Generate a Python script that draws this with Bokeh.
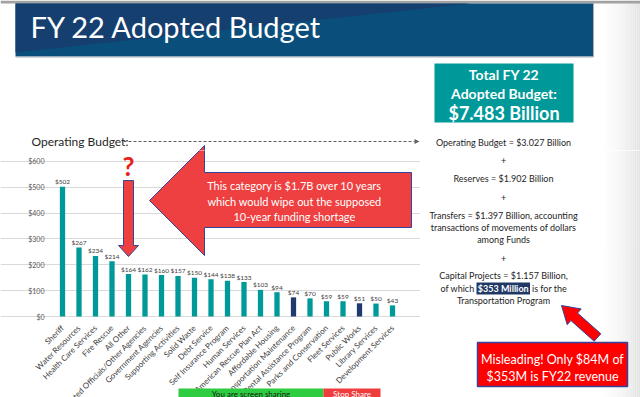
import math
import numpy as np
from bokeh.plotting import figure
from bokeh.layouts import column, row
from bokeh.models import Range1d, NumeralTickFormatter
from bokeh.core.properties import value
from bokeh.embed import file_html
from bokeh.resources import INLINE

# ---------------- data ----------------
categories = ["Sheriff", "Water Resources", "Health Care Services", "Fire Rescue", "All Other",
              "Elected Officials/Other Agencies", "Government Agencies", "Supporting Activities",
              "Solid Waste", "Debt Service", "Self Insurance Program", "Human Services",
              "American Rescue Plan Act", "Affordable Housing", "Transportation Maintenance",
              "Rental Assistance Program", "Parks and Conservation", "Fleet Services",
              "Public Works", "Library Services", "Development Services"]
amounts = [502, 267, 234, 214, 164, 162, 160, 157, 150, 144, 138, 133, 103, 94, 74, 70,
           59, 59, 51, 50, 43]
highlighted = ["Transportation Maintenance", "Public Works"]
y_ticks = [0, 100, 200, 300, 400, 500, 600]

slide_title = "FY 22 Adopted Budget"
section_label = "Operating Budget:"
total_lines = ["Total FY 22", "Adopted Budget:", "$7.483 Billion"]
callout_lines = ["This category is $1.7B over 10 years",
                 "which would wipe out the supposed",
                 "10-year funding shortage"]
breakdown_lines = ["Operating Budget = $3.027 Billion", "+", "Reserves = $1.902 Billion", "+",
                   "Transfers = $1.397 Billion, accounting",
                   "transactions of movements of dollars", "among Funds", "+",
                   "Capital Projects = $1.157 Billion,"]
highlight_parts = ["of which", "$353 Million", "is for the"]
last_line = "Transportation Program"
warning_lines = ["Misleading! Only $84M of", "$353M is FY22 revenue"]
share_texts = ["You are screen sharing", "Stop Share"]

# ---------------- styles ----------------
FONT = value("Lato")
TEAL = "#009999"
NAVY = "#1F3A6E"
RED = "#EE4040"
EDGE = "#34449A"
TXT = "#1E1E1E"


def canvas(x0, x1, y0, y1):
    p = figure(width=x1 - x0, height=y1 - y0, x_range=Range1d(x0, x1), y_range=Range1d(y1, y0),
               x_axis_type=None, y_axis_type=None, output_backend="svg",
               toolbar_location=None, min_border=0)
    p.outline_line_color = None
    p.background_fill_color = "white"
    p.border_fill_color = "white"
    return p


def right_shade(p, y0, y1):
    lefts = np.arange(596, 640, 2.0)
    t = (lefts - 596) / 44.0
    g = np.round(255 - 30 * t ** 1.6).astype(int)
    cols = ["#%02x%02x%02x" % (v, v, v) for v in g]
    p.quad(left=lefts, right=lefts + 2, top=y0, bottom=y1, fill_color=cols, line_color=None)


callout_x = [149, 204, 204, 411, 411, 204, 204]
callout_y = [200, 145, 172, 172, 227, 227, 255]

# ---------------- top strip ----------------
top = canvas(0, 640, 0, 150)
right_shade(top, 0, 150)
top.quad(left=0, right=640, top=0, bottom=3, fill_color="#A2A2A2", line_color=None)
top.quad(left=15, right=593, top=3, bottom=56, fill_color="#0A4E7B", line_color=None)
top.patch([15, 15, 470], [3, 52, 3], fill_color="#153F6F", line_color=None)
top.line([15, 593, 593], [56.5, 56.5, 3], line_color="#A8B0B8", line_width=1)
top.text(x=[30], y=[26], text=[slide_title], text_font=FONT, text_font_size="29px",
         text_color="white", text_baseline="middle", text_align="left")

top.quad(left=434, right=573, top=63, bottom=122, fill_color=TEAL, line_color=None)
for txt, yy, fs in zip(total_lines, [74, 93, 112], ["14px", "14px", "18px"]):
    top.text(x=[503.5], y=[yy], text=[txt], text_font=FONT, text_font_size=fs,
             text_font_style="bold", text_color="white", text_align="center",
             text_baseline="middle")

top.text(x=[31], y=[141], text=[section_label], text_font=FONT, text_font_size="12px",
         text_color="#262626", text_baseline="middle", text_align="left")
top.line([123, 414], [141, 141], line_color="#606060", line_width=1, line_dash="3 2")
top.patch([414, 414, 419], [138.5, 143.5, 141], fill_color="#606060", line_color=None)
top.text(x=[503], y=[142], text=[breakdown_lines[0]], text_font=FONT, text_font_size="9px",
         text_color=TXT, text_align="center", text_baseline="middle")
top.patch(callout_x, callout_y, fill_color=RED, line_color=EDGE, line_width=1)

# ---------------- bar chart ----------------
K = 0.2586          # px per $M
ZERO_Y = 316
FIG_L, FIG_R, FIG_T, FIG_B = 0, 420, 150, 397
PLOT_L, PLOT_R = 50, 413
X0, DX = 62, 16.5


def xv(px):
    return (px - X0) / DX


idx = list(range(len(categories)))
colors = [NAVY if c in highlighted else TEAL for c in categories]
value_labels = ["$%d" % v for v in amounts]

chart = figure(width=FIG_R - FIG_L, height=FIG_B - FIG_T,
               x_range=Range1d(xv(FIG_L), xv(FIG_R)),
               y_range=Range1d(-(FIG_B - ZERO_Y) / K, (ZERO_Y - FIG_T) / K),
               output_backend="svg", toolbar_location=None, min_border=0)
chart.extra_x_ranges = {"px": Range1d(FIG_L, FIG_R)}
chart.extra_y_ranges = {"py": Range1d(FIG_B, FIG_T)}
chart.outline_line_color = None
chart.background_fill_color = "white"
chart.border_fill_color = "white"
chart.xgrid.visible = False
chart.ygrid.grid_line_color = "#D9D9D9"
chart.ygrid.bounds = (xv(PLOT_L), xv(PLOT_R))

chart.yaxis.fixed_location = xv(PLOT_L)
chart.yaxis.ticker = y_ticks
chart.yaxis.formatter = NumeralTickFormatter(format="$0")
chart.yaxis.axis_line_color = None
chart.yaxis.major_tick_line_color = None
chart.yaxis.minor_tick_line_color = None
chart.yaxis.major_tick_out = 0
chart.yaxis.major_tick_in = 0
chart.yaxis.major_label_text_font = "Lato"
chart.yaxis.major_label_text_font_size = "7px"
chart.yaxis.major_label_text_color = "#595959"
chart.yaxis.major_label_standoff = 6

chart.xaxis.fixed_location = 0
chart.xaxis.level = "underlay"
chart.xaxis.ticker = idx
chart.xaxis.major_label_overrides = {i: c for i, c in zip(idx, categories)}
chart.xaxis.major_label_orientation = math.pi / 4
chart.xaxis.axis_line_color = None
chart.xaxis.major_tick_line_color = None
chart.xaxis.minor_tick_line_color = None
chart.xaxis.major_label_text_font = "Lato"
chart.xaxis.major_label_text_font_size = "8px"
chart.xaxis.major_label_text_color = "#404040"
chart.xaxis.major_label_standoff = 4

chart.vbar(x=idx, top=amounts, bottom=0, width=0.32, fill_color=colors, line_color=None)
chart.text(x=idx, y=amounts, text=value_labels, text_font=FONT, text_font_size="6.5px",
           text_color="#404040", text_align="center", text_baseline="bottom", y_offset=-1.5)

RN = dict(x_range_name="px", y_range_name="py")
chart.patch(callout_x, callout_y, fill_color=RED, line_color=EDGE, line_width=1, **RN)
for txt, yy in zip(callout_lines, [185, 200.5, 216]):
    chart.text(x=[294], y=[yy], text=[txt], text_font=FONT, text_font_size="11px",
               text_color="white", text_align="center", text_baseline="middle", **RN)
chart.patch([123, 133, 133, 138, 128, 118, 123], [180, 180, 245, 245, 256, 245, 245],
            fill_color=RED, line_color=EDGE, line_width=1, **RN)
chart.text(x=[128], y=[165], text=["?"], text_font=FONT, text_font_size="26px",
           text_font_style="bold", text_color="#E8201C", text_align="center",
           text_baseline="middle", **RN)
# screen-sharing bar (left part)
chart.quad(left=178, right=323, top=388, bottom=400, fill_color="#2ECC40", line_color=None, **RN)
chart.quad(left=323, right=380, top=388, bottom=400, fill_color="#F03C3C", line_color=None, **RN)
chart.text(x=[250.5], y=[393], text=[share_texts[0]], text_font=FONT, text_font_size="8px",
           text_color="#1A1A1A", text_align="center", text_baseline="middle", **RN)
chart.text(x=[351.5], y=[393], text=[share_texts[1]], text_font=FONT, text_font_size="8px",
           text_color="white", text_align="center", text_baseline="middle", **RN)

# ---------------- right panel ----------------
right = canvas(420, 640, 150, 397)
right_shade(right, 150, 397)
for txt, yy in zip(breakdown_lines[1:], [160, 178, 197, 215, 227, 239, 258, 275]):
    right.text(x=[503], y=[yy], text=[txt], text_font=FONT, text_font_size="9px",
               text_color=TXT, text_align="center", text_baseline="middle")
right.quad(left=476, right=529.5, top=282, bottom=294, fill_color="#1F3864", line_color=None)
right.text(x=[474], y=[288], text=[highlight_parts[0]], text_font=FONT, text_font_size="9px",
           text_color=TXT, text_align="right", text_baseline="middle")
right.text(x=[502.75], y=[288], text=[highlight_parts[1]], text_font=FONT, text_font_size="9px",
           text_font_style="bold", text_color="white", text_align="center",
           text_baseline="middle")
right.text(x=[531.5], y=[288], text=[highlight_parts[2]], text_font=FONT, text_font_size="9px",
           text_color=TXT, text_align="left", text_baseline="middle")
right.text(x=[503], y=[300], text=[last_line], text_font=FONT, text_font_size="9px",
           text_color=TXT, text_align="center", text_baseline="middle")

# red pointer arrow
tip = np.array([561.0, 305.0])
tail = np.array([597.0, 337.0])
u = (tip - tail) / np.linalg.norm(tip - tail)
n = np.array([-u[1], u[0]])
base = tip - 17 * u
pts = [tail + 5 * n, base + 5 * n, base + 10.5 * n, tip, base - 10.5 * n, base - 5 * n, tail - 5 * n]
right.patch([p[0] for p in pts], [p[1] for p in pts], fill_color="#FF0000", line_color=EDGE,
            line_width=1)

right.quad(left=477, right=627, top=342, bottom=386, fill_color="#FF0000", line_color=EDGE,
           line_width=1.5)
for txt, yy in zip(warning_lines, [358.5, 375.5]):
    right.text(x=[552], y=[yy], text=[txt], text_font=FONT, text_font_size="12.5px",
               text_color="white", text_align="center", text_baseline="middle")

layout = column(top, row(chart, right, spacing=0), spacing=0)
open("out.html", "w").write(file_html(layout, INLINE))
